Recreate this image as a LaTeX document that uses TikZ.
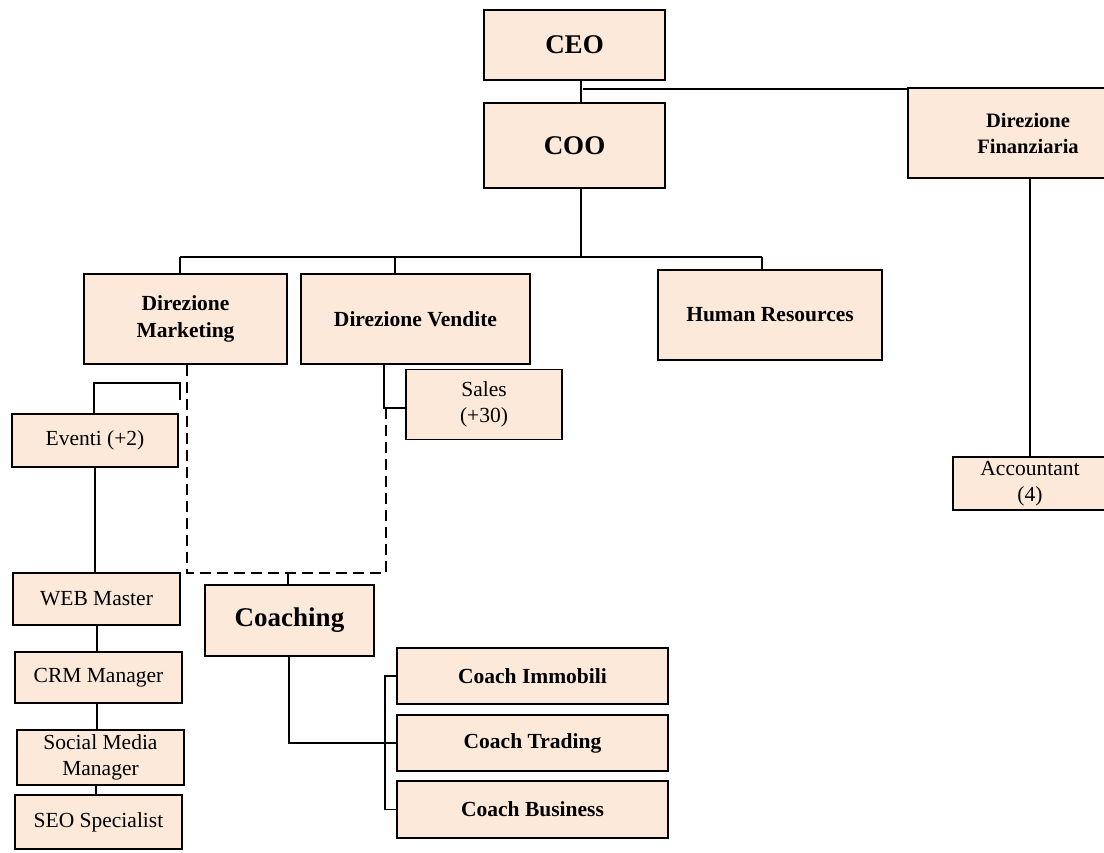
\documentclass[tikz,border=0pt]{standalone}
\usepackage{fontspec}
\setmainfont{Liberation Serif}
\definecolor{peach}{RGB}{252,233,218}
\begin{document}
\begin{tikzpicture}[x=1pt,y=-1pt,
  box/.style={draw=black, fill=peach, line width=1.4pt, inner sep=0pt, align=center},
  big/.style={font=\fontsize{27}{30}\selectfont\bfseries},
  mid/.style={font=\fontsize{21.5}{27}\selectfont\bfseries},
  reg/.style={font=\fontsize{21.5}{26}\selectfont},
  conn/.style={draw=black, line width=1.2pt},
  dconn/.style={draw=black, line width=1.2pt, dash pattern=on 11pt off 6pt}]
\useasboundingbox (0,0) rectangle (1104,853);

% nodes
\node[box, big, minimum width=181pt, minimum height=70pt] (ceo) at (574.5,45) {CEO};
\node[box, big, minimum width=181pt, minimum height=85pt] (coo) at (574.5,145.5) {COO};
\node[box, mid, font=\fontsize{20.5}{26}\selectfont\bfseries, minimum width=240pt, minimum height=90pt] (dirfin) at (1028,133) {Direzione\\Finanziaria};
\node[box, reg, minimum width=154pt, minimum height=53pt] (acc) at (1030,483.5) {Accountant\\(4)};
\node[box, mid, minimum width=203pt, minimum height=90pt] (dirmark) at (185.5,319) {Direzione\\Marketing};
\node[box, mid, minimum width=229pt, minimum height=90pt] (dirvend) at (415.5,319) {Direzione Vendite};
\node[box, mid, font=\fontsize{21.5}{26}\selectfont\bfseries, minimum width=224pt, minimum height=90pt] (hr) at (770,315) {Human Resources};
\node[box, reg, minimum width=156pt, minimum height=70pt] (sales) at (484,404.5) {Sales\\(+30)};
\node[box, reg, minimum width=166pt, minimum height=53pt] (eventi) at (95,440.5) {Eventi (+2)};
\node[box, reg, minimum width=167pt, minimum height=52pt] (web) at (96.5,599) {WEB Master};
\node[box, reg, minimum width=167pt, minimum height=51pt] (crm) at (98.5,677.5) {CRM Manager};
\node[box, reg, minimum width=167pt, minimum height=55pt] (social) at (100.5,757.5) {Social Media\\Manager};
\node[box, reg, minimum width=167pt, minimum height=54pt] (seo) at (98.5,822) {SEO Specialist};
\node[box, big, minimum width=169pt, minimum height=71pt] (coaching) at (289.5,620.5) {Coaching};
\node[box, mid, minimum width=271pt, minimum height=56pt] (cimm) at (532.5,676) {Coach Immobili};
\node[box, mid, minimum width=271pt, minimum height=56pt] (ctrad) at (532.5,743) {Coach Trading};
\node[box, mid, minimum width=271pt, minimum height=57pt] (cbus) at (532.5,809.5) {Coach Business};

% coordinates
\coordinate (topx) at (581,89);
\coordinate (bus) at (581,257);
\coordinate (vx) at (384,408);
\coordinate (dl) at (187,573);
\coordinate (dr) at (386,573);
\coordinate (db) at (288,573);
\coordinate (bk1) at (180,400);
\coordinate (bk2) at (180,383);
\coordinate (bk3) at (94,383);
\coordinate (ch) at (289,743);
\coordinate (br) at (385,743);

% top connectors
\draw[conn] (ceo.south -| topx) -- (coo.north -| topx);
\draw[conn] (583,89) -- (dirfin.west |- topx);
\draw[conn] (coo.south -| bus) -- (bus);
\draw[conn] (180,257) -- (762,257);
\draw[conn] (180,257) -- (dirmark.north -| 180,0);
\draw[conn] (395,257) -- (dirvend.north -| 395,0);
\draw[conn] (762,257) -- (hr.north -| 762,0);
\draw[conn] (dirfin.south -| acc.north) -- (acc.north);

% vendite / sales
\draw[conn] (dirvend.south -| vx) -- (vx) -- (sales.west |- vx);

% dashed link to coaching
\draw[dconn] (dirmark.south -| dl) -- (dl) -- (dr) -- (386,408);
\draw[conn] (db) -- (coaching.north -| db);

% marketing bracket
\draw[conn] (bk1) -- (bk2) -- (bk3) -- (eventi.north -| bk3);

% left column
\draw[conn] (eventi.south -| 95,0) -- (web.north -| 95,0);
\draw[conn] (web.south -| 97,0) -- (crm.north -| 97,0);
\draw[conn] (crm.south -| 97,0) -- (social.north -| 97,0);
\draw[conn] (social.south -| 96,0) -- (seo.north -| 96,0);

% coaching children
\draw[conn] (coaching.south -| ch) -- (ch) -- (br);
\draw[conn] (cimm.west) -- (385,676) -- (385,809.5) -- (cbus.west);
\draw[conn] (br) -- (ctrad.west);
\end{tikzpicture}
\end{document}
